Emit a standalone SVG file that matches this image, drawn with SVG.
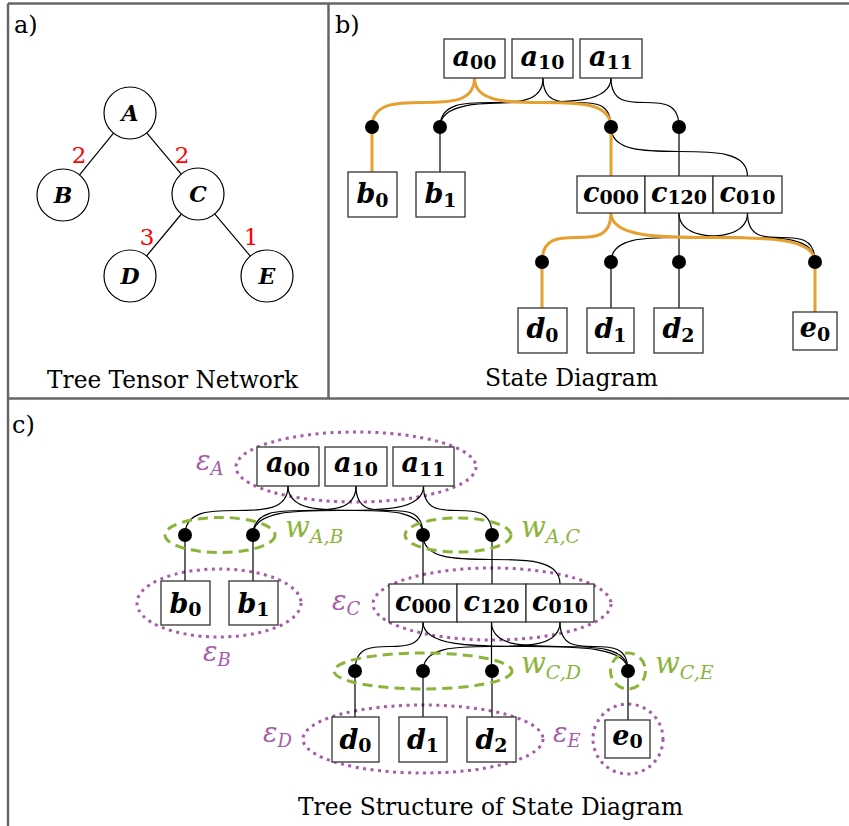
<svg xmlns="http://www.w3.org/2000/svg" width="849" height="826" viewBox="0 0 849 826">
<style>
.frame{stroke:#666;stroke-width:2.5;fill:none}
.box{fill:#fff;stroke:#333;stroke-width:1.3}
.circ{fill:#fff;stroke:#000;stroke-width:1.2}
.edge{stroke:#000;stroke-width:1.2;fill:none}
.hl{stroke:#E6A030;stroke-width:3;fill:none}
.dot{fill:#000}
.eps{fill:none;stroke:#A65CA9;stroke-width:3;stroke-dasharray:3 4.5}
.wel{fill:none;stroke:#8CB43A;stroke-width:3;stroke-dasharray:10 6}
.L{font-family:"DejaVu Serif",serif;font-weight:bold;font-style:italic;font-size:27px;fill:#000}
.S{font-size:19px;font-style:normal}
.N{font-family:"DejaVu Serif",serif;font-weight:bold;font-style:italic;font-size:22px;fill:#000}
.cap{font-family:"DejaVu Serif",serif;font-size:24px;fill:#000}
.red{font-family:"DejaVu Serif",serif;font-size:23px;fill:#f00}
.pl{font-family:"DejaVu Serif",serif;font-style:italic;font-size:27px;fill:#A65CA9}
.gl{font-family:"DejaVu Serif",serif;font-style:italic;font-size:29px;fill:#8CB43A}
.ps{font-size:18px}
.gs{font-size:19px}
</style>
<g id="frame">
<line class="frame" x1="8" y1="3.5" x2="849" y2="3.5"/>
<line class="frame" x1="8" y1="3.5" x2="8" y2="826"/>
<line class="frame" x1="328.5" y1="3.5" x2="328.5" y2="398.5"/>
<line class="frame" x1="8" y1="398.5" x2="849" y2="398.5"/>
</g>
<g id="panel-labels">
<text class="cap" x="14" y="33">a)</text>
<text class="cap" x="335" y="33">b)</text>
<text class="cap" x="12" y="433">c)</text>
<text class="cap" x="172.5" y="388" text-anchor="middle" textLength="251" lengthAdjust="spacingAndGlyphs">Tree Tensor Network</text>
<text class="cap" x="571.5" y="386" text-anchor="middle" textLength="173" lengthAdjust="spacingAndGlyphs">State Diagram</text>
<text class="cap" x="490.5" y="815" text-anchor="middle" textLength="385" lengthAdjust="spacingAndGlyphs">Tree Structure of State Diagram</text>
</g>
<!-- Panel a -->
<g id="a-connectors">
<line class="edge" x1="113.5" y1="133.1" x2="79.5" y2="174.9"/>
<line class="edge" x1="146.7" y1="132.9" x2="181.3" y2="174.1"/>
<line class="edge" x1="181.4" y1="214" x2="146.6" y2="256"/>
<line class="edge" x1="214.7" y1="213.9" x2="250.3" y2="256.1"/>
<text class="red" x="79" y="163" text-anchor="middle">2</text>
<text class="red" x="182" y="163" text-anchor="middle">2</text>
<text class="red" x="147" y="245" text-anchor="middle">3</text>
<text class="red" x="251" y="245" text-anchor="middle">1</text>
</g>
<g id="a-A"><circle class="circ" cx="130" cy="113" r="26"/><text class="N" x="130" y="121" text-anchor="middle">A</text></g>
<g id="a-B"><circle class="circ" cx="63" cy="195" r="26"/><text class="N" x="63" y="203" text-anchor="middle">B</text></g>
<g id="a-C"><circle class="circ" cx="198" cy="194" r="26"/><text class="N" x="198" y="202" text-anchor="middle">C</text></g>
<g id="a-D"><circle class="circ" cx="130" cy="276" r="26"/><text class="N" x="130" y="284" text-anchor="middle">D</text></g>
<g id="a-E"><circle class="circ" cx="267" cy="276" r="26"/><text class="N" x="267" y="284" text-anchor="middle">E</text></g>
<!-- Panel b -->
<g id="b-connectors">
<path class="edge" d="M543 78 C543 127 440 78 440 127"/>
<path class="edge" d="M543 78 C543 127 611 78 611 127"/>
<path class="edge" d="M611 78 C611 127 440 78 440 127"/>
<path class="edge" d="M611 78 C611 127 679 78 679 127"/>
<path class="edge" d="M611 127 C611 176 747.5 127 747.5 176"/>
<path class="edge" d="M440 127 V172 M679 127 V176 M679 213 V262 M611 262 V308 M679 262 V308"/>
<path class="edge" d="M679 213 C679 262 815 213 815 262"/>
<path class="edge" d="M747.5 213 C747.5 262 611 213 611 262"/>
<path class="edge" d="M747.5 213 C747.5 262 815 213 815 262"/>
<path class="hl" d="M474.5 78 C474.5 127 372 78 372 127 V172"/>
<path class="hl" d="M474.5 78 C474.5 127 611 78 611 127 V176"/>
<path class="hl" d="M611 213 C611 262 542 213 542 262 V308"/>
<path class="hl" d="M611 213 C611 262 815 213 815 262 V312"/>
</g>
<g id="b-a00"><rect class="box" x="444" y="39" width="61" height="39"/><text class="L" x="474.5" y="66" text-anchor="middle">a<tspan class="S" dy="3">00</tspan></text></g>
<g id="b-a10"><rect class="box" x="512" y="39" width="61" height="39"/><text class="L" x="542.5" y="66" text-anchor="middle">a<tspan class="S" dy="3">10</tspan></text></g>
<g id="b-a11"><rect class="box" x="580" y="39" width="62" height="39"/><text class="L" x="611" y="66" text-anchor="middle">a<tspan class="S" dy="3">11</tspan></text></g>
<g id="b-b0"><rect class="box" x="348" y="172" width="49" height="45"/><text class="L" x="372.5" y="203" text-anchor="middle">b<tspan class="S" dy="4">0</tspan></text></g>
<g id="b-b1"><rect class="box" x="416" y="172" width="49" height="45"/><text class="L" x="440.5" y="203" text-anchor="middle">b<tspan class="S" dy="4">1</tspan></text></g>
<g id="b-c000"><rect class="box" x="577" y="176" width="68" height="37"/><text class="L" x="611" y="202" text-anchor="middle">c<tspan class="S" dy="2">000</tspan></text></g>
<g id="b-c120"><rect class="box" x="645" y="176" width="68" height="37"/><text class="L" x="679" y="202" text-anchor="middle">c<tspan class="S" dy="2">120</tspan></text></g>
<g id="b-c010"><rect class="box" x="713" y="176" width="69" height="37"/><text class="L" x="747.5" y="202" text-anchor="middle">c<tspan class="S" dy="2">010</tspan></text></g>
<g id="b-d0"><rect class="box" x="518" y="308" width="49" height="45"/><text class="L" x="542.5" y="338" text-anchor="middle">d<tspan class="S" dy="4">0</tspan></text></g>
<g id="b-d1"><rect class="box" x="587" y="308" width="47" height="45"/><text class="L" x="610.5" y="338" text-anchor="middle">d<tspan class="S" dy="4">1</tspan></text></g>
<g id="b-d2"><rect class="box" x="654" y="308" width="49" height="45"/><text class="L" x="678.5" y="338" text-anchor="middle">d<tspan class="S" dy="4">2</tspan></text></g>
<g id="b-e0"><rect class="box" x="793" y="312" width="44" height="38"/><text class="L" x="815" y="337" text-anchor="middle">e<tspan class="S" dy="4">0</tspan></text></g>
<g id="b-dots">
<circle class="dot" cx="372" cy="127" r="7"/><circle class="dot" cx="440" cy="127" r="7"/>
<circle class="dot" cx="611" cy="127" r="7"/><circle class="dot" cx="679" cy="127" r="7"/>
<circle class="dot" cx="542" cy="262" r="7"/><circle class="dot" cx="611" cy="262" r="7"/>
<circle class="dot" cx="679" cy="262" r="7"/><circle class="dot" cx="815" cy="262" r="7"/>
</g>
<!-- Panel c -->
<g id="c-eps">
<ellipse class="eps" cx="356" cy="467" rx="120" ry="35"/>
<ellipse class="eps" cx="219" cy="603" rx="82" ry="34"/>
<ellipse class="eps" cx="492" cy="604" rx="119" ry="36"/>
<ellipse class="eps" cx="423" cy="739" rx="120" ry="34"/>
<ellipse class="eps" cx="628" cy="739" rx="35" ry="35"/>
</g>
<g id="c-connectors">
<path class="edge" d="M288 486 C288 535 185 486 185 535"/>
<path class="edge" d="M288 486 C288 535 423 486 423 535"/>
<path class="edge" d="M356 486 C356 535 253 486 253 535"/>
<path class="edge" d="M356 486 C356 535 423 486 423 535"/>
<path class="edge" d="M423.5 486 C423.5 535 253 486 253 535"/>
<path class="edge" d="M423.5 486 C423.5 535 492 486 492 535"/>
<path class="edge" d="M423 535 C423 584 560 535 560 584"/>
<path class="edge" d="M185 535 V581 M253 535 V581 M423 535 V584 M492 535 V584 M491.5 622 V671 M355 671 V717 M423 671 V717 M492 671 V717 M628 671 V720"/>
<path class="edge" d="M423 622 C423 671 355 622 355 671"/>
<path class="edge" d="M423 622 C423 671 628 622 628 671"/>
<path class="edge" d="M491.5 622 C491.5 671 628 622 628 671"/>
<path class="edge" d="M560 622 C560 671 423 622 423 671"/>
<path class="edge" d="M560 622 C560 671 628 622 628 671"/>
</g>
<g id="c-a00"><rect class="box" x="257" y="447" width="62" height="39"/><text class="L" x="288" y="472" text-anchor="middle">a<tspan class="S" dy="4">00</tspan></text></g>
<g id="c-a10"><rect class="box" x="325" y="447" width="62" height="39"/><text class="L" x="356" y="472" text-anchor="middle">a<tspan class="S" dy="4">10</tspan></text></g>
<g id="c-a11"><rect class="box" x="393" y="447" width="61" height="39"/><text class="L" x="423.5" y="472" text-anchor="middle">a<tspan class="S" dy="4">11</tspan></text></g>
<g id="c-b0"><rect class="box" x="161" y="581" width="49" height="44"/><text class="L" x="185.5" y="613" text-anchor="middle">b<tspan class="S" dy="3">0</tspan></text></g>
<g id="c-b1"><rect class="box" x="229" y="581" width="49" height="44"/><text class="L" x="253.5" y="613" text-anchor="middle">b<tspan class="S" dy="3">1</tspan></text></g>
<g id="c-c000"><rect class="box" x="389" y="584" width="68" height="38"/><text class="L" x="423" y="611" text-anchor="middle">c<tspan class="S" dy="2">000</tspan></text></g>
<g id="c-c120"><rect class="box" x="457" y="584" width="69" height="38"/><text class="L" x="491.5" y="611" text-anchor="middle">c<tspan class="S" dy="2">120</tspan></text></g>
<g id="c-c010"><rect class="box" x="526" y="584" width="68" height="38"/><text class="L" x="560" y="611" text-anchor="middle">c<tspan class="S" dy="2">010</tspan></text></g>
<g id="c-d0"><rect class="box" x="332" y="717" width="47" height="45"/><text class="L" x="355.5" y="749" text-anchor="middle">d<tspan class="S" dy="3">0</tspan></text></g>
<g id="c-d1"><rect class="box" x="399" y="717" width="48" height="45"/><text class="L" x="423" y="749" text-anchor="middle">d<tspan class="S" dy="3">1</tspan></text></g>
<g id="c-d2"><rect class="box" x="467" y="717" width="49" height="45"/><text class="L" x="491.5" y="749" text-anchor="middle">d<tspan class="S" dy="3">2</tspan></text></g>
<g id="c-e0"><rect class="box" x="605" y="720" width="45" height="38"/><text class="L" x="627.5" y="745" text-anchor="middle">e<tspan class="S" dy="3">0</tspan></text></g>
<g id="c-dots">
<circle class="dot" cx="185" cy="535" r="7"/><circle class="dot" cx="253" cy="535" r="7"/>
<circle class="dot" cx="423" cy="535" r="7"/><circle class="dot" cx="492" cy="535" r="7"/>
<circle class="dot" cx="355" cy="671" r="7"/><circle class="dot" cx="423" cy="671" r="7"/>
<circle class="dot" cx="492" cy="671" r="7"/><circle class="dot" cx="628" cy="671" r="7"/>
</g>
<g id="c-w">
<ellipse class="wel" cx="220" cy="535" rx="55" ry="17.5"/>
<ellipse class="wel" cx="458" cy="535" rx="53" ry="17"/>
<ellipse class="wel" cx="423" cy="671" rx="89" ry="18"/>
<ellipse class="wel" cx="628" cy="671" rx="17.5" ry="18"/>
</g>
<g id="c-labels">
<text class="pl" x="196" y="470">ε<tspan class="ps" dy="5">A</tspan></text>
<text class="pl" x="203" y="661">ε<tspan class="ps" dy="5">B</tspan></text>
<text class="pl" x="332" y="610">ε<tspan class="ps" dy="5">C</tspan></text>
<text class="pl" x="263" y="742">ε<tspan class="ps" dy="5">D</tspan></text>
<text class="pl" x="553" y="742">ε<tspan class="ps" dy="5">E</tspan></text>
<text class="gl" x="285" y="537">w<tspan class="gs" dy="6">A,B</tspan></text>
<text class="gl" x="521" y="537">w<tspan class="gs" dy="6">A,C</tspan></text>
<text class="gl" x="521" y="673">w<tspan class="gs" dy="6">C,D</tspan></text>
<text class="gl" x="655" y="673">w<tspan class="gs" dy="6">C,E</tspan></text>
</g>
</svg>
